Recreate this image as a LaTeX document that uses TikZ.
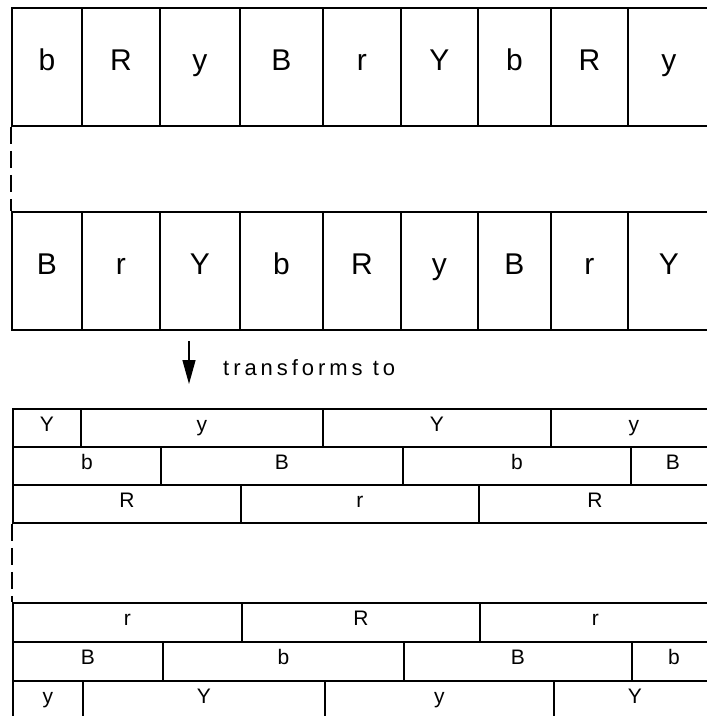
\documentclass[tikz,border=0pt]{standalone}
\usepackage{fontspec}
\setmainfont{Liberation Sans}
\newfontfamily\spacedfont[LetterSpace=18]{Liberation Sans}
\usetikzlibrary{arrows.meta}
\tikzset{
  bigcell/.style={draw, line width=1.8pt, anchor=north west, inner sep=0pt,
    minimum height=118pt, text height=0.716em, text depth=0pt,
    font=\fontsize{30}{36}\selectfont},
  brick/.style={draw, line width=1.8pt, anchor=north west, inner sep=0pt,
    text height=0.716em, text depth=0pt, font=\fontsize{21}{25}\selectfont},
  gap/.style={line width=1.6pt, dash pattern=on 17pt off 7pt},
  turn/.style={-{Triangle[length=24pt,width=13pt]}, line width=1.4pt},
  note/.style={font=\spacedfont\fontsize{22}{26}\selectfont, inner sep=0pt}
}

\begin{document}
\begin{tikzpicture}[x=1pt, y=-1pt]
  \useasboundingbox (0,0) rectangle (707,716);
  \clip (0,0) rectangle (707,716);
  % the two rows of squares
  \foreach \x/\w/\a/\b [count=\i] in {11/70/b/B, 81/78/R/r, 159/80/y/Y,
      239/83/B/b, 322/78/r/R, 400/77/Y/y, 477/73/b/B, 550/77/R/r, 627/82/y/Y}
    {
      \node[bigcell, minimum width=\w pt] (top\i) at (\x,7) {\a};
      \node[bigcell, minimum width=\w pt] (low\i) at (\x,211) {\b};
    }
  \draw[gap] (top1.south west) -- (low1.north west);
  % arrow
  \coordinate (arrtop) at (189,341);
  \coordinate (arrtip) at (189,384);
  \draw[turn] (arrtop) -- (arrtip);
  \node[note, anchor=base west] (caption) at (223,375) {transforms to};
  % first block of bricks
  \foreach \x/\w/\t [count=\i] in {12/68/Y, 80/242/y, 322/228/Y, 550/166/y}
    \node[brick, minimum width=\w pt, minimum height=38pt] (ka\i) at (\x,408) {\t};
  \foreach \x/\w/\t [count=\i] in {12/148/b, 160/242/B, 402/228/b, 630/84/B}
    \node[brick, minimum width=\w pt, minimum height=38pt] (kb\i) at (\x,446) {\t};
  \foreach \x/\w/\t [count=\i] in {12/228/R, 240/238/r, 478/232/R}
    \node[brick, minimum width=\w pt, minimum height=38pt] (kc\i) at (\x,484) {\t};
  % second block of bricks
  \foreach \x/\w/\t [count=\i] in {12/229/r, 241/238/R, 479/231/r}
    \node[brick, minimum width=\w pt, minimum height=39pt] (la\i) at (\x,602) {\t};
  \foreach \x/\w/\t [count=\i] in {12/150/B, 162/241/b, 403/228/B, 631/84/b}
    \node[brick, minimum width=\w pt, minimum height=39pt] (lb\i) at (\x,641) {\t};
  \foreach \x/\w/\t [count=\i] in {12/70/y, 82/242/Y, 324/229/y, 553/162/Y}
    \node[brick, minimum width=\w pt, minimum height=39pt] (lc\i) at (\x,680) {\t};
  \draw[gap] (kc1.south west) -- (la1.north west);
\end{tikzpicture}
\end{document}
